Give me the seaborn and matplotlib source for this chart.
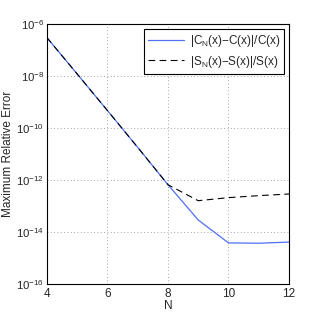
import matplotlib
matplotlib.use("Agg")
import matplotlib.pyplot as plt
import seaborn as sns
import pandas as pd
import numpy as np

N = [4, 5, 6, 7, 8, 9, 10, 11, 12]
err_C = [3.0e-7, 1.2e-8, 4.7e-10, 1.8e-11, 6.6e-13, 2.9e-14, 3.8e-15, 3.7e-15, 4.1e-15]
err_S = [3.0e-7, 1.2e-8, 4.7e-10, 1.8e-11, 6.6e-13, 1.6e-13, 2.1e-13, 2.5e-13, 2.9e-13]
label_C = r"|C$_\mathregular{N}$(x)−C(x)|/C(x)"
label_S = r"|S$_\mathregular{N}$(x)−S(x)|/S(x)"
xticks = [4, 6, 8, 10, 12]
yticks = [1e-16, 1e-14, 1e-12, 1e-10, 1e-8, 1e-6]

sns.set_style("white")
plt.rcParams['font.family'] = ['Liberation Sans', 'DejaVu Sans']
plt.rcParams['mathtext.fontset'] = 'custom'
plt.rcParams['mathtext.rm'] = 'Liberation Sans'

fig = plt.figure(figsize=(3.19, 3.2), dpi=100)
ax = fig.add_axes([0.147, 0.1125, 0.759, 0.8125])

dfC = pd.DataFrame({"N": N, "err": err_C})
dfS = pd.DataFrame({"N": N, "err": err_S})
sns.lineplot(data=dfC, x="N", y="err", ax=ax, color="#4f6ff5", lw=0.9, label=label_C)
sns.lineplot(data=dfS, x="N", y="err", ax=ax, color="black", lw=0.8, label=label_S,
             dashes=False, linestyle=(0, (6, 4)))
ax.set_yscale("log")
ax.set_xlim(4, 12)
ax.set_ylim(1e-16, 1e-6)
ax.set_xticks(xticks)
ax.set_xticklabels([str(t) for t in xticks])
ax.set_yticks(yticks)
ax.set_yticklabels([rf"10$^{{{int(np.log10(t))}}}$" for t in yticks])
ax.minorticks_off()
ax.tick_params(direction="in", length=3, labelsize=8.5, width=0.6, pad=3)
ax.tick_params(axis="y", labelsize=8.2, pad=2)
ax.grid(True, linestyle=(0, (1, 3)), color="#888888", lw=0.6)
for s in ax.spines.values():
    s.set_color("black")
    s.set_linewidth(0.8)
ax.set_xlabel("N", fontsize=8.5, labelpad=0)
ax.set_ylabel("Maximum Relative Error", fontsize=8.5, labelpad=1)
ax.yaxis.set_label_coords(-0.135, 0.5)
leg = ax.legend(loc="upper right", fontsize=8.5, frameon=True, fancybox=False,
                edgecolor="black", framealpha=1, borderpad=0.35, handlelength=3.0,
                borderaxespad=0.4, labelspacing=0.4, handletextpad=0.5)
leg.get_frame().set_linewidth(0.8)
fig.savefig("out.png", dpi=100)
